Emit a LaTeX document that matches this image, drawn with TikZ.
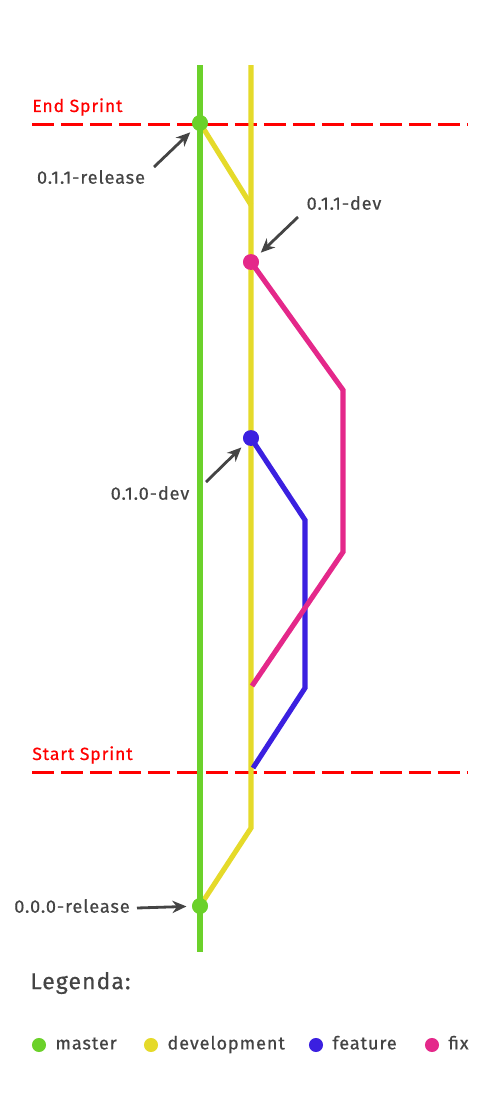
\documentclass[tikz,border=0pt]{standalone}
\usepackage{fontspec}
\setmainfont{Fira Sans}[LetterSpace=5, FakeBold=0.6, BoldFont={Fira Sans}]
\usetikzlibrary{arrows.meta, positioning, calc}

\definecolor{mastergreen}{HTML}{6BD12A}
\definecolor{devyellow}{HTML}{E5DA2A}
\definecolor{featblue}{HTML}{3B20E0}
\definecolor{fixpink}{HTML}{E4288A}
\definecolor{labelgray}{HTML}{444444}

\tikzset{
  branch/.style={line width=2.9pt, line cap=butt, line join=miter},
  commit/.style={circle, fill=#1, inner sep=0pt, minimum size=9pt},
  legdot/.style={circle, fill=#1, inner sep=0pt, minimum size=8pt},
  sprint/.style={draw=red, line width=1.7pt, dash pattern=on 12.5pt off 4pt},
  sprintlbl/.style={text=red, font=\fontsize{10}{12}\selectfont\bfseries, anchor=west, inner sep=0pt},
  taglbl/.style={text=labelgray, font=\fontsize{10.3}{12}\selectfont\bfseries, inner sep=0pt},
  leglbl/.style={taglbl, text height=7pt, text depth=2pt},
  tagarrow/.style={draw=labelgray, line width=1.6pt, -{Stealth[length=8pt, width=7pt, inset=2.5pt]}, shorten >=3pt},
}

\begin{document}
\begin{tikzpicture}[x=0.02cm, y=-0.02cm]
    \useasboundingbox (0,0) rectangle (500,1100);

    % sprint limits
    \node[sprintlbl] (endlbl) at (32,107) {End Sprint};
    \node[sprintlbl] (startlbl) at (32,755) {Start Sprint};
    \draw[sprint] (32,124) -- (468,124);
    \draw[sprint] (32,772) -- (468,772);

    % commits
    \node[commit=mastergreen] (rel11) at (200,123) {};
    \node[commit=mastergreen] (rel00) at (200,906) {};
    \node[commit=fixpink] (dev11) at (251,262) {};
    \node[commit=featblue] (dev10) at (251,438) {};

    % branches
    \draw[branch, devyellow] (251,65) -- (251,828) -- (rel00.center);
    \draw[branch, devyellow] (251,205) -- (rel11.center);
    \draw[branch, mastergreen] (200,65) -- (200,952);
    \draw[branch, featblue] (dev10.center) -- (305,520) -- (305,688) -- (253,768);
    \draw[branch, fixpink] (dev11.center) -- (343,390) -- (343,552) -- (252,686);

    % commits on top
    \node[commit=mastergreen] at (rel11) {};
    \node[commit=mastergreen] at (rel00) {};
    \node[commit=fixpink] at (dev11) {};
    \node[commit=featblue] at (dev10) {};

    % tags
    \node[taglbl] (rel11lbl) at (91,177) {0.1.1-release};
    \node[taglbl] (dev11lbl) at (344,203) {0.1.1-dev};
    \node[taglbl] (dev10lbl) at (150,493) {0.1.0-dev};
    \node[taglbl] (rel00lbl) at (72,906) {0.0.0-release};
    \coordinate (rel11tail) at (154,167);
    \coordinate (dev11tail) at (298,217);
    \coordinate (dev10tail) at (206,482);
    \coordinate (rel00tail) at (137,908);
    \draw[tagarrow] (rel11tail) -- (rel11);
    \draw[tagarrow] (dev11tail) -- (dev11);
    \draw[tagarrow] (dev10tail) -- (dev10);
    \draw[tagarrow] (rel00tail) -- (rel00);

    % legend
    \node[text=labelgray, font=\fontsize{13}{15}\selectfont\bfseries, anchor=west, inner sep=0pt] (legtitle) at (30,983) {Legenda:};
    \node[legdot=mastergreen] (legmaster) at (39,1045) {};
    \node[legdot=devyellow] (legdev) at (151,1045) {};
    \node[legdot=featblue] (legfeat) at (316,1045) {};
    \node[legdot=fixpink] (legfix) at (432,1045) {};
    \node[leglbl, right=5pt of legmaster] {master};
    \node[leglbl, right=5pt of legdev] {development};
    \node[leglbl, right=5pt of legfeat] {feature};
    \node[leglbl, right=5pt of legfix] {fix};
\end{tikzpicture}
\end{document}
